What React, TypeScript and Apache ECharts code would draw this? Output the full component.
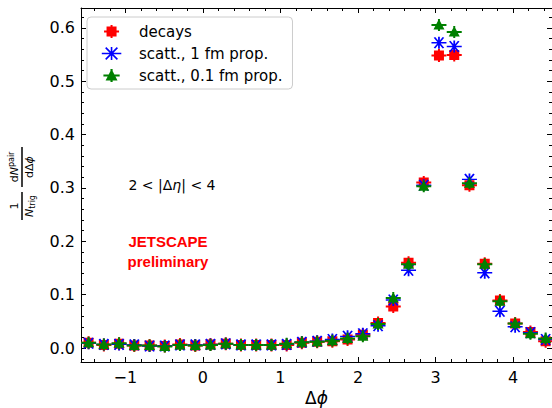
import React, { useEffect, useRef } from "react";
import * as echarts from "echarts";

// Bin centres of Δφ (32 bins over 2π, those inside the visible range)
const X_CENTERS = [
  -1.473, -1.276, -1.080, -0.884, -0.687, -0.491, -0.295, -0.098, 0.098, 0.295,
  0.491, 0.687, 0.884, 1.080, 1.276, 1.473, 1.669, 1.865, 2.062, 2.258,
  2.454, 2.651, 2.847, 3.043, 3.240, 3.436, 3.633, 3.829, 4.025, 4.222, 4.418,
];

const DECAYS = [
  0.010, 0.006, 0.008, 0.005, 0.005, 0.004, 0.007, 0.005, 0.007, 0.008,
  0.006, 0.006, 0.006, 0.006, 0.010, 0.012, 0.013, 0.016, 0.025, 0.047,
  0.078, 0.160, 0.310, 0.548, 0.549, 0.305, 0.158, 0.089, 0.046, 0.030, 0.013,
];

const SCATT_1FM = [
  0.009, 0.007, 0.007, 0.006, 0.004, 0.004, 0.006, 0.006, 0.007, 0.008,
  0.006, 0.006, 0.006, 0.007, 0.011, 0.013, 0.016, 0.022, 0.027, 0.042,
  0.090, 0.146, 0.305, 0.572, 0.565, 0.316, 0.141, 0.069, 0.040, 0.029, 0.016,
];

const SCATT_01FM = [
  0.010, 0.007, 0.009, 0.005, 0.005, 0.003, 0.006, 0.005, 0.006, 0.008,
  0.006, 0.006, 0.006, 0.008, 0.011, 0.012, 0.014, 0.018, 0.022, 0.045,
  0.094, 0.157, 0.303, 0.605, 0.592, 0.309, 0.157, 0.088, 0.046, 0.027, 0.018,
];

const SERIES_NAMES = ["decays", "scatt., 1 fm prop.", "scatt., 0.1 fm prop."];

const X_MAJOR = [-1, 0, 1, 2, 3, 4];
const X_MINOR = [
  -1.4, -1.2, -0.8, -0.6, -0.4, -0.2, 0.2, 0.4, 0.6, 0.8, 1.2, 1.4, 1.6, 1.8,
  2.2, 2.4, 2.6, 2.8, 3.2, 3.4, 3.6, 3.8, 4.2, 4.4,
];
const Y_MAJOR = [0, 0.1, 0.2, 0.3, 0.4, 0.5, 0.6];
const Y_MINOR = [
  -0.02, 0.02, 0.04, 0.06, 0.08, 0.12, 0.14, 0.16, 0.18, 0.22, 0.24, 0.26, 0.28,
  0.32, 0.34, 0.36, 0.38, 0.42, 0.44, 0.46, 0.48, 0.52, 0.54, 0.56, 0.58, 0.62,
];

const X_MIN = -1.5708;
const X_MAX = 4.5;
const Y_MIN = -0.026;
const Y_MAX = 0.637;

const FONT = "DejaVu Sans";
const PHI = "\u03d5";

const RED_SYMBOL =
  "path://M2.5 1.5h10v10h-10Z M0 5.5h15v2h-15Z M6.5 0h2v13h-2Z";
const BLUE_SYMBOL = "path://M0 6H15M7.5 1V11M3 1.5L12 10.5M12 1.5L3 10.5";
const GREEN_SYMBOL =
  "path://M7.5 0L13 10.5H2Z M0 5h15v2h-15Z M6.5 0h2v12h-2Z";

export default function App() {
  const ref = useRef<HTMLDivElement>(null);

  useEffect(() => {
    if (!ref.current) return;
    const chart = echarts.init(ref.current, null, { renderer: "svg" });

    const black = "#000000";
    const majorLen = 5;
    const minorLen = 3;

    const xAxisBase = {
      type: "value" as const,
      min: X_MIN,
      max: X_MAX,
      splitLine: { show: false },
    };
    const yAxisBase = {
      type: "value" as const,
      min: Y_MIN,
      max: Y_MAX,
      splitLine: { show: false },
    };

    const mkTick = (values: number[], len: number) => ({
      show: true,
      inside: true,
      length: len,
      customValues: values,
      lineStyle: { color: black, width: 1 },
    });

    const option: any = {
      animation: false,
      grid: {
        left: 81,
        right: 0,
        top: 8,
        bottom: 46,
        outerBoundsMode: "none",
      },
      legend: {
        data: SERIES_NAMES,
        orient: "vertical",
        left: 87,
        top: 17,
        itemWidth: 45,
        itemHeight: 13,
        itemGap: 7,
        padding: [7, 10, 6, 14],
        borderColor: "#cccccc",
        borderWidth: 1,
        borderRadius: 4,
        backgroundColor: "rgba(255,255,255,0.8)",
        selectedMode: false,
        textStyle: { fontFamily: FONT, fontSize: 15, color: black },
        itemStyle: { borderWidth: "inherit" },
      },
      xAxis: [
        {
          ...xAxisBase,
          position: "bottom",
          axisLine: { show: true, onZero: false, lineStyle: { color: black, width: 1 } },
          axisTick: mkTick(X_MAJOR, majorLen),
          axisLabel: {
            customValues: X_MAJOR,
            fontFamily: FONT,
            fontSize: 16,
            color: black,
            margin: 7,
            formatter: (v: number) => (v < 0 ? "\u2212" + Math.abs(v) : String(v)),
          },
          name: "{a|\u0394}{b|" + PHI + "}",
          nameLocation: "middle",
          nameGap: 25,
          nameTextStyle: {
            fontFamily: FONT,
            fontSize: 16,
            color: black,
            rich: {
              a: { fontFamily: FONT, fontSize: 17, color: black },
              b: { fontFamily: FONT, fontSize: 17, color: black, fontStyle: "italic" },
            },
          },
        },
        {
          ...xAxisBase,
          position: "bottom",
          axisLine: { show: false, onZero: false },
          axisTick: mkTick(X_MINOR, minorLen),
          axisLabel: { show: false },
        },
        {
          ...xAxisBase,
          position: "top",
          axisLine: { show: true, onZero: false, lineStyle: { color: black, width: 1 } },
          axisTick: mkTick(X_MAJOR, majorLen),
          axisLabel: { show: false },
        },
        {
          ...xAxisBase,
          position: "top",
          axisLine: { show: false, onZero: false },
          axisTick: mkTick(X_MINOR, minorLen),
          axisLabel: { show: false },
        },
      ],
      yAxis: [
        {
          ...yAxisBase,
          position: "left",
          axisLine: { show: true, onZero: false, lineStyle: { color: black, width: 1 } },
          axisTick: mkTick(Y_MAJOR, majorLen),
          axisLabel: {
            customValues: Y_MAJOR,
            fontFamily: FONT,
            fontSize: 16,
            color: black,
            margin: 6,
            formatter: (v: number) => v.toFixed(1),
          },
        },
        {
          ...yAxisBase,
          position: "left",
          axisLine: { show: false, onZero: false },
          axisTick: mkTick(Y_MINOR, minorLen),
          axisLabel: { show: false },
        },
        {
          ...yAxisBase,
          position: "right",
          axisLine: { show: true, onZero: false, lineStyle: { color: black, width: 1 } },
          axisTick: mkTick(Y_MAJOR, majorLen),
          axisLabel: { show: false },
        },
        {
          ...yAxisBase,
          position: "right",
          axisLine: { show: false, onZero: false },
          axisTick: mkTick(Y_MINOR, minorLen),
          axisLabel: { show: false },
        },
      ],
      series: [
        {
          name: SERIES_NAMES[0],
          type: "scatter",
          xAxisIndex: 0,
          yAxisIndex: 0,
          symbol: RED_SYMBOL,
          symbolSize: [15, 13],
          itemStyle: { color: "#ff0000", borderWidth: 0, opacity: 1 },
          data: X_CENTERS.map((x, i) => [x, DECAYS[i]]),
        },
        {
          name: SERIES_NAMES[1],
          type: "scatter",
          xAxisIndex: 0,
          yAxisIndex: 0,
          symbol: BLUE_SYMBOL,
          symbolSize: [15, 12],
          itemStyle: {
            color: "rgba(0,0,0,0)",
            borderColor: "#0000ff",
            borderWidth: 1.6,
            opacity: 1,
          },
          data: X_CENTERS.map((x, i) => [x, SCATT_1FM[i]]),
        },
        {
          name: SERIES_NAMES[2],
          type: "scatter",
          xAxisIndex: 0,
          yAxisIndex: 0,
          symbol: GREEN_SYMBOL,
          symbolSize: [15, 12],
          itemStyle: { color: "#008000", borderWidth: 0, opacity: 1 },
          data: X_CENTERS.map((x, i) => [x, SCATT_01FM[i]]),
        },
      ],
      graphic: [
        {
          type: "text",
          x: 172,
          y: 185,
          style: {
            text: "{a|2 < |\u0394}{b|\u03b7}{a|| < 4}",
            align: "center",
            verticalAlign: "middle",
            fill: black,
            rich: {
              a: { fontFamily: FONT, fontSize: 14, fill: black },
              b: { fontFamily: FONT, fontSize: 14, fill: black, fontStyle: "italic" },
            },
          },
        },
        {
          type: "text",
          x: 168,
          y: 241,
          style: {
            text: "JETSCAPE",
            align: "center",
            verticalAlign: "middle",
            fill: "#ff0000",
            fontFamily: "Liberation Sans",
            fontWeight: "bold",
            fontSize: 15,
          },
        },
        {
          type: "text",
          x: 168,
          y: 261,
          style: {
            text: "preliminary",
            align: "center",
            verticalAlign: "middle",
            fill: "#ff0000",
            fontFamily: "Liberation Sans",
            fontWeight: "bold",
            fontSize: 15,
          },
        },
        {
          type: "group",
          x: 22,
          y: 183.5,
          rotation: Math.PI / 2,
          children: [
            {
              type: "text",
              x: -22.5,
              y: -7.5,
              style: {
                text: "1",
                align: "center",
                verticalAlign: "middle",
                fontFamily: FONT,
                fontSize: 11,
                fill: black,
              },
            },
            {
              type: "text",
              x: -33.5,
              y: 7.5,
              style: {
                text: "N",
                align: "left",
                verticalAlign: "middle",
                fontFamily: FONT,
                fontStyle: "italic",
                fontSize: 11,
                fill: black,
              },
            },
            {
              type: "text",
              x: -25.3,
              y: 10,
              style: {
                text: "trig",
                align: "left",
                verticalAlign: "middle",
                fontFamily: FONT,
                fontSize: 8,
                fill: black,
              },
            },
            {
              type: "line",
              shape: { x1: -36.5, y1: 0, x2: -8.5, y2: 0 },
              style: { stroke: black, lineWidth: 1.5 },
            },
            {
              type: "text",
              x: 1.2,
              y: -7.5,
              style: {
                text: "{d|d}{n|N}",
                align: "left",
                verticalAlign: "middle",
                rich: {
                  d: { fontFamily: FONT, fontSize: 11, fill: black },
                  n: { fontFamily: FONT, fontSize: 11, fill: black, fontStyle: "italic" },
                },
              },
            },
            {
              type: "text",
              x: 16.4,
              y: -10.5,
              style: {
                text: "pair",
                align: "left",
                verticalAlign: "middle",
                fontFamily: FONT,
                fontSize: 8,
                fill: black,
              },
            },
            {
              type: "text",
              x: 16.5,
              y: 7.5,
              style: {
                text: "{d|d\u0394}{n|" + PHI + "}",
                align: "center",
                verticalAlign: "middle",
                rich: {
                  d: { fontFamily: FONT, fontSize: 11, fill: black },
                  n: { fontFamily: FONT, fontSize: 11, fill: black, fontStyle: "italic" },
                },
              },
            },
            {
              type: "line",
              shape: { x1: -3.5, y1: 0, x2: 36.5, y2: 0 },
              style: { stroke: black, lineWidth: 1.5 },
            },
          ],
        },
      ],
    };

    chart.setOption(option);
    return () => chart.dispose();
  }, []);

  return (
    <div
      ref={ref}
      style={{
        position: "fixed",
        left: 0,
        top: 0,
        width: 552,
        height: 408,
        background: "#ffffff",
      }}
    />
  );
}
